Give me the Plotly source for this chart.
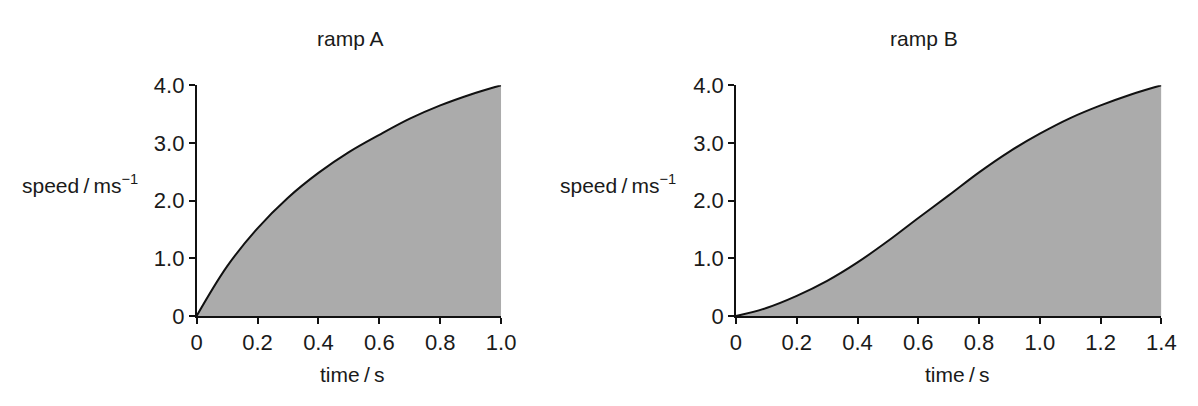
import plotly.graph_objects as go

# ---- data ----
time_a = [0, 0.1, 0.2, 0.3, 0.4, 0.5, 0.6, 0.7, 0.8, 0.9, 1.0]
speed_a = [0, 0.86, 1.52, 2.05, 2.48, 2.84, 3.14, 3.42, 3.65, 3.84, 4.0]

time_b = [0, 0.1, 0.2, 0.3, 0.4, 0.5, 0.6, 0.7, 0.8, 0.9, 1.0, 1.1, 1.2, 1.3, 1.4]
speed_b = [0, 0.14, 0.35, 0.61, 0.93, 1.30, 1.70, 2.09, 2.49, 2.85, 3.16, 3.43, 3.65, 3.84, 4.0]

xticks_a = [0, 0.2, 0.4, 0.6, 0.8, 1.0]
xticklabels_a = ["0", "0.2", "0.4", "0.6", "0.8", "1.0"]
xticks_b = [0, 0.2, 0.4, 0.6, 0.8, 1.0, 1.2, 1.4]
xticklabels_b = ["0", "0.2", "0.4", "0.6", "0.8", "1.0", "1.2", "1.4"]
yticks = [0, 1, 2, 3, 4]
yticklabels = ["0", "1.0", "2.0", "3.0", "4.0"]

titles = ["ramp A", "ramp B"]
x_title = "time\u2009/\u2009s"
y_title = "speed\u2009/\u2009ms<sup>\u22121</sup>"

FONT = "Liberation Sans, Arial, Helvetica, sans-serif"
TXT = "#1a1a1a"
FILL = "#ababab"

W, H = 1198, 406
def px_x(p):
    return p / W
def px_y(p):
    return 1 - p / H

fig = go.Figure()
fig.add_trace(go.Scatter(x=time_a, y=speed_a, mode="lines", fill="tozeroy",
                         fillcolor=FILL, line=dict(color="#111111", width=2, shape="spline"),
                         xaxis="x", yaxis="y", showlegend=False, hoverinfo="skip"))
fig.add_trace(go.Scatter(x=time_b, y=speed_b, mode="lines", fill="tozeroy",
                         fillcolor=FILL, line=dict(color="#111111", width=2, shape="spline"),
                         xaxis="x2", yaxis="y2", showlegend=False, hoverinfo="skip"))

ydom = [px_y(324), px_y(78)]
axis_common = dict(showgrid=False, zeroline=False, showline=True, linecolor="#111111",
                   linewidth=1.5, ticks="outside", ticklen=6, tickwidth=1.5,
                   tickcolor="#111111", tickfont=dict(family=FONT, size=22, color=TXT))

fig.update_layout(
    width=W, height=H,
    margin=dict(l=0, r=0, t=0, b=0),
    paper_bgcolor="white", plot_bgcolor="white",
    xaxis=dict(domain=[px_x(194), px_x(504)], range=[0, 1.0], tickvals=xticks_a,
               ticktext=xticklabels_a, anchor="y", **axis_common),
    yaxis=dict(domain=ydom, range=[0, 4.0], tickvals=yticks, ticktext=yticklabels,
               anchor="x", **axis_common),
    xaxis2=dict(domain=[px_x(743), px_x(1176)], range=[0, 1.4], tickvals=xticks_b,
                ticktext=xticklabels_b, anchor="y2", **axis_common),
    yaxis2=dict(domain=ydom, range=[0, 4.0], tickvals=yticks, ticktext=yticklabels,
                anchor="x2", **axis_common),
)

def ann(text, x, y, size):
    fig.add_annotation(text=text, x=px_x(x), y=px_y(y), xref="paper", yref="paper",
                       showarrow=False, xanchor="center", yanchor="middle",
                       font=dict(family=FONT, size=size, color=TXT))

ann(titles[0], 351, 28, 21)
ann(titles[1], 934, 28, 21)
ann(x_title, 352, 386, 21)
ann(x_title, 968, 386, 21)
ann(y_title, 75, 183, 21)
ann(y_title, 623, 183, 21)

fig.write_html("out.html")
